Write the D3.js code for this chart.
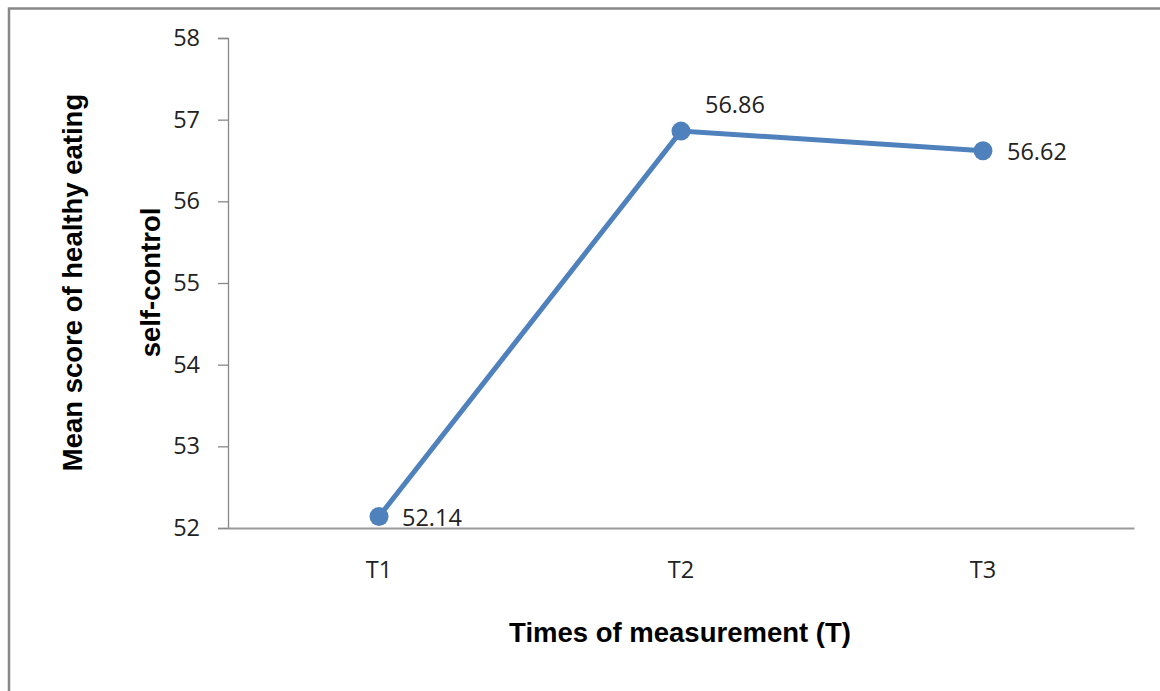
<!DOCTYPE html>
<html><head><meta charset="utf-8">
<script src="https://cdn.jsdelivr.net/npm/d3@7"></script>
<style>body{margin:0;background:#fff;}svg{display:block;}</style>
</head><body>
<svg id="c" width="1160" height="691"></svg>
<script>
const categories = ["T1", "T2", "T3"];
const values = [52.14, 56.86, 56.62];
const yTicks = [52, 53, 54, 55, 56, 57, 58];
const xTitle = "Times of measurement (T)";
const yTitleLines = ["Mean score of healthy eating", "self-control"];

(function () {
const svg = d3.select("#c");
const W = 1160, H = 691;
svg.append("rect").attr("x", 0).attr("y", 0).attr("width", W).attr("height", H).attr("fill", "#fff");
// outer frame
svg.append("path").attr("d", `M9,${H} L9,8.5 L${W},8.5`).attr("fill", "none").attr("stroke", "#888").attr("stroke-width", 2.5);

const mLeft = 228, mRight = 1134, mTop = 38, mBottom = 528;
const x = d3.scaleBand().domain(categories).range([mLeft, mRight]);
const y = d3.scaleLinear().domain([52, 58]).range([mBottom, mTop]);
const font = "'Open Sans', 'Liberation Sans', sans-serif";
const fs = 23.5;

// y axis
const ya = svg.append("g").attr("transform", `translate(${mLeft},0)`)
  .call(d3.axisLeft(y).tickValues(yTicks).tickSize(10).tickPadding(18).tickFormat(d3.format("d")));
ya.select(".domain").attr("stroke", "#888").attr("stroke-width", 1.3);
ya.selectAll(".tick line").attr("stroke", "#888").attr("stroke-width", 1.3);
ya.selectAll(".tick text").attr("font-family", font).attr("font-size", fs).attr("fill", "#222");

// x axis
const xa = svg.append("g").attr("transform", `translate(0,${mBottom})`)
  .call(d3.axisBottom(x).tickSize(0).tickPadding(33));
xa.select(".domain").attr("stroke", "#999").attr("stroke-width", 2);
xa.selectAll(".tick text").attr("font-family", font).attr("font-size", fs).attr("fill", "#222");

const cx = d => x(d) + x.bandwidth() / 2;
const data = categories.map((c, i) => ({c, v: values[i]}));

svg.append("path").datum(data)
  .attr("d", d3.line().x(d => cx(d.c)).y(d => y(d.v)))
  .attr("fill", "none").attr("stroke", "#4F81BD").attr("stroke-width", 5);

svg.selectAll("circle.pt").data(data).enter().append("circle")
  .attr("cx", d => cx(d.c)).attr("cy", d => y(d.v)).attr("r", 9.5).attr("fill", "#4F81BD");

const labelOffsets = [[23, 9.5], [24, -18], [24, 9.5]];
svg.selectAll("text.lbl").data(data).enter().append("text")
  .attr("x", (d, i) => cx(d.c) + labelOffsets[i][0])
  .attr("y", (d, i) => y(d.v) + labelOffsets[i][1])
  .attr("font-family", font).attr("font-size", fs).attr("fill", "#222")
  .text(d => d.v.toFixed(2));

// titles
const tfont = "'Liberation Sans', Arial, sans-serif";
svg.append("text").attr("x", 680).attr("y", 642).attr("text-anchor", "middle")
  .attr("font-family", tfont).attr("font-weight", "bold").attr("font-size", 27.5).attr("fill", "#000")
  .text(xTitle);
const yt = [82, 160];
yTitleLines.forEach((t, i) => {
  svg.append("text").attr("transform", `translate(${yt[i]},282.5) rotate(-90)`).attr("text-anchor", "middle")
    .attr("font-family", tfont).attr("font-weight", "bold").attr("font-size", 27.5).attr("fill", "#000")
    .text(t);
});
})();
</script>
</body></html>
